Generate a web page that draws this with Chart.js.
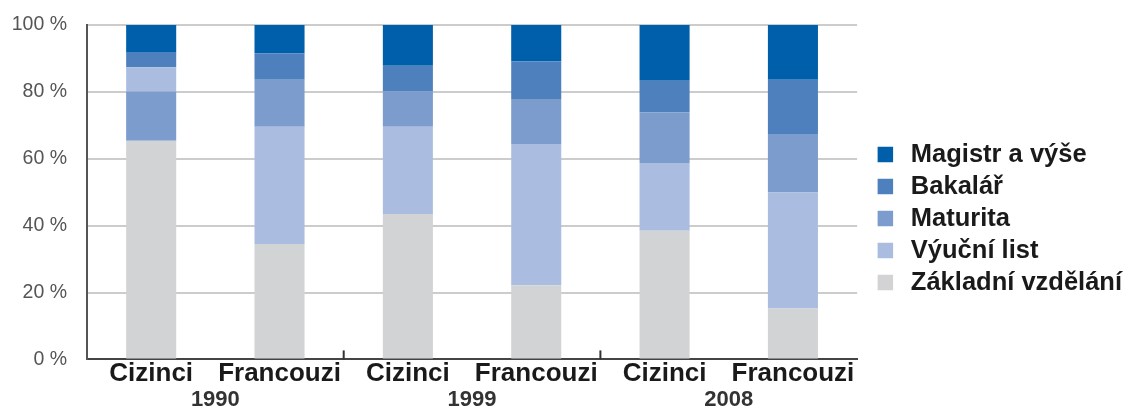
<!DOCTYPE html>
<html>
<head>
<meta charset="utf-8">
<script src="https://cdn.jsdelivr.net/npm/chart.js@4/dist/chart.umd.min.js"></script>
<style>
  html, body { margin: 0; padding: 0; background: #ffffff; }
  #wrap { width: 1138px; height: 412px; position: relative; }
</style>
</head>
<body>
<div id="wrap"><canvas id="c" width="1138" height="412"></canvas></div>
<script>
// ---- Data ----
const categories = ['Cizinci', 'Francouzi', 'Cizinci', 'Francouzi', 'Cizinci', 'Francouzi'];
const years = ['1990', '1999', '2008'];
const yTicks = [0, 20, 40, 60, 80, 100];

const zakladni = [65.4, 34.5, 43.5, 22.2, 38.5, 15.2];   // Základní vzdělání
const vyucni   = [7.3, 35.1, 26.1, 42.2, 20.2, 34.7];    // Výuční list
const maturita = [14.7, 14.0, 10.5, 13.5, 15.2, 17.3];   // Maturita
const bakalar  = [4.3, 7.9, 7.7, 11.2, 9.4, 16.4];       // Bakalář
const magistr  = [8.3, 8.5, 12.2, 10.9, 16.7, 16.4];     // Magistr a výše

// In the reference, the first bar stacks Maturita below Výuční list
const maturitaBelow = [true, false, false, false, false, false];

const colors = {
  magistr: '#005fab',
  bakalar: '#4e80bd',
  maturita: '#7b9ccc',
  vyucni: '#aabde1',
  zakladni: '#d2d3d5'
};

const groupBoundaryPlugin = {
  id: 'groupBoundary',
  afterDraw(chart) {
    const xs = chart.scales.x;
    const area = chart.chartArea;
    const ctx = chart.ctx;
    ctx.save();
    ctx.strokeStyle = '#333333';
    ctx.lineWidth = 2;
    for (let i = 2; i < categories.length; i += 2) {
      const px = (xs.getPixelForValue(i - 1) + xs.getPixelForValue(i)) / 2;
      ctx.beginPath();
      ctx.moveTo(px, area.bottom - 9);
      ctx.lineTo(px, area.bottom);
      ctx.stroke();
    }
    ctx.restore();
  }
};

const LEG_FONT = 25.5;

new Chart(document.getElementById('c'), {
  type: 'bar',
  data: {
    labels: categories,
    datasets: [
      { label: 'Základní vzdělání', data: zakladni, backgroundColor: colors.zakladni },
      { label: 'Maturita', helper: true, data: maturita.map((v, i) => maturitaBelow[i] ? v : null), backgroundColor: colors.maturita },
      { label: 'Výuční list', data: vyucni, backgroundColor: colors.vyucni },
      { label: 'Maturita', data: maturita.map((v, i) => maturitaBelow[i] ? null : v), backgroundColor: colors.maturita },
      { label: 'Bakalář', data: bakalar, backgroundColor: colors.bakalar },
      { label: 'Magistr a výše', data: magistr, backgroundColor: colors.magistr }
    ]
  },
  options: {
    responsive: false,
    animation: false,
    devicePixelRatio: 1,
    barPercentage: 0.39,
    categoryPercentage: 1.0,
    layout: { padding: { top: 25, left: 12, right: 6, bottom: 0 } },
    plugins: {
      tooltip: { enabled: false },
      legend: {
        position: 'right',
        reverse: true,
        maxWidth: 300,
        labels: {
          usePointStyle: true,
          pointStyle: 'rect',
          boxWidth: LEG_FONT,
          boxHeight: 15.5,
          padding: 6.5,
          color: '#1a1a1a',
          font: { family: '"Liberation Sans", Arial, sans-serif', size: LEG_FONT, weight: 'bold' },
          filter: (item, data) => !data.datasets[item.datasetIndex].helper
        }
      }
    },
    scales: {
      x: {
        stacked: true,
        weight: 0,
        grid: { display: false, drawTicks: false },
        border: { display: true, color: '#444444', width: 2 },
        ticks: {
          autoSkip: false,
          maxRotation: 0,
          padding: 0,
          color: '#1a1a1a',
          font: { family: '"Liberation Sans", Arial, sans-serif', size: 26, weight: 'bold', lineHeight: 1.1 }
        }
      },
      xYear: {
        type: 'category',
        labels: years,
        position: 'bottom',
        weight: 1,
        offset: true,
        grid: { display: false, drawTicks: false },
        border: { display: false },
        ticks: {
          maxRotation: 0,
          padding: 1,
          color: '#333333',
          font: { family: '"Liberation Sans", Arial, sans-serif', size: 22, weight: 'bold', lineHeight: 1 }
        }
      },
      y: {
        stacked: true,
        min: 0,
        max: 100,
        afterBuildTicks: (axis) => { axis.ticks = yTicks.map(v => ({ value: v })); },
        afterFit: (scale) => { scale.width = 75; scale.paddingTop = 0; scale.paddingBottom = 0; },
        grid: { color: '#cccccc', lineWidth: 2, drawTicks: false },
        border: { display: true, color: '#555555', width: 2 },
        ticks: {
          padding: 20,
          color: '#555555',
          font: { family: '"Liberation Sans", Arial, sans-serif', size: 19.5 },
          callback: (v) => v + ' %'
        }
      },
      ySpacer: {
        type: 'linear',
        position: 'right',
        display: true,
        grid: { display: false, drawTicks: false },
        border: { display: false },
        ticks: { display: false },
        afterFit: (scale) => { scale.width = 9; }
      }
    }
  },
  plugins: [groupBoundaryPlugin]
});
</script>
</body>
</html>
